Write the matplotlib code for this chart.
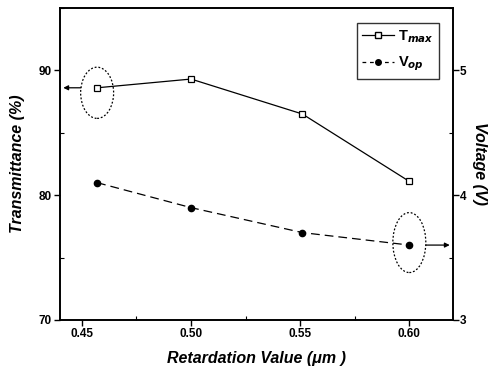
import matplotlib
matplotlib.use("Agg")
import matplotlib.pyplot as plt
from matplotlib.patches import Ellipse
from matplotlib.ticker import MultipleLocator

# data
retardation = [0.457, 0.50, 0.551, 0.60]
t_max = [88.6, 89.3, 86.5, 81.1]
v_op = [4.1, 3.9, 3.7, 3.6]

plt.rcParams["font.family"] = ["Liberation Sans", "DejaVu Sans"]
plt.rcParams["font.weight"] = "bold"

fig = plt.figure(figsize=(4.94, 3.76), dpi=100)
ax = fig.add_axes([0.1215, 0.149, 0.7955, 0.830])
ax2 = ax.twinx()

ax.plot(retardation, t_max, "-", color="black", lw=0.9,
        marker="s", ms=4.5, mfc="white", mec="black", mew=0.9)
ax2.plot(retardation, v_op, color="black", lw=0.9, dashes=(7, 4),
         marker="o", ms=4.5, mfc="black", mec="black")

ax.set_xlim(0.44, 0.62)
ax.set_ylim(70, 95)
ax2.set_ylim(3, 5.5)

ax.xaxis.set_major_locator(MultipleLocator(0.05))
ax.xaxis.set_minor_locator(MultipleLocator(0.025))
ax.yaxis.set_major_locator(MultipleLocator(10))
ax.yaxis.set_minor_locator(MultipleLocator(5))
ax2.yaxis.set_major_locator(MultipleLocator(1))
ax2.yaxis.set_minor_locator(MultipleLocator(0.5))

ax.set_xticks([0.45, 0.50, 0.55, 0.60])
ax.set_xticklabels(["0.45", "0.50", "0.55", "0.60"])
ax.tick_params(which="major", direction="out", length=4, width=1, labelsize=8.5, pad=2)
ax.tick_params(which="minor", direction="in", length=3, width=0.8)
ax2.tick_params(which="major", direction="out", length=4, width=1, labelsize=8.5, pad=1)
ax2.tick_params(which="minor", direction="in", length=3, width=0.8)
for a in (ax, ax2):
    for s in a.spines.values():
        s.set_linewidth(1.2)

lab = dict(fontsize=11.5, fontweight="bold", fontstyle="italic")
ax.set_xlabel("Retardation Value (\u03bcm )", labelpad=8, **lab)
ax.set_ylabel("Transmittance (%)", labelpad=10, **lab)
ax2.set_ylabel("Voltage (V)", rotation=270, labelpad=15, **lab)

# dotted ellipses with arrows pointing at the matching axis
ax.add_patch(Ellipse((retardation[0], 88.2), 0.0151, 4.1, fill=False,
                     ls=(0, (1.5, 1.5)), lw=0.9, color="black"))
ax.annotate("", xy=(0.4415, t_max[0]), xytext=(0.4495, t_max[0]),
            arrowprops=dict(arrowstyle="-|>", color="black", lw=0.9,
                            mutation_scale=7, shrinkA=0, shrinkB=0))
ax2.add_patch(Ellipse((retardation[3], 3.62), 0.0151, 0.48, fill=False,
                      ls=(0, (1.5, 1.5)), lw=0.9, color="black"))
ax2.annotate("", xy=(0.6185, v_op[3]), xytext=(0.6077, v_op[3]),
             arrowprops=dict(arrowstyle="-|>", color="black", lw=0.9,
                             mutation_scale=7, shrinkA=0, shrinkB=0))

h1, = ax.plot([], [], "-", color="black", lw=0.9, marker="s", ms=4,
              mfc="white", mec="black")
h2, = ax.plot([], [], color="black", lw=0.9, dashes=(3, 3), marker="o",
              ms=4, mfc="black")
leg = ax2.legend([h1, h2], [r"T$_{max}$", r"V$_{op}$"], loc="upper right",
                 bbox_to_anchor=(0.964, 0.952), borderaxespad=0,
                 fontsize=10.5, frameon=True, fancybox=False,
                 edgecolor="black", handlelength=2.2, handletextpad=0.3,
                 borderpad=0.35, labelspacing=0.7)
leg.get_frame().set_linewidth(1.0)

fig.savefig("out.png", dpi=100, facecolor="white")
